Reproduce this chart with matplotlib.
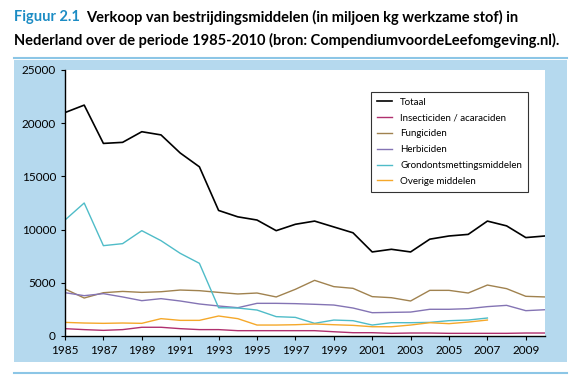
import matplotlib
matplotlib.use('Agg')
import matplotlib.pyplot as plt
from matplotlib.patches import Rectangle
from matplotlib.lines import Line2D

plt.rcParams['font.family'] = ['Lato', 'DejaVu Sans']

years = list(range(1985, 2011))
totaal = [21000, 21700, 18100, 18200, 19200, 18900, 17200, 15900, 11800, 11200, 10900, 9900, 10500,
          10800, 10250, 9700, 7900, 8150, 7900, 9100, 9400, 9550, 10800, 10350, 9250, 9400]
insecticiden = [690, 600, 530, 600, 820, 820, 690, 600, 600, 500, 500, 500, 500,
                500, 400, 310, 310, 250, 280, 280, 250, 250, 250, 250, 280, 280]
fungiciden = [4420, 3570, 4070, 4190, 4100, 4160, 4320, 4260, 4100, 3950, 4040, 3670, 4390,
              5230, 4640, 4480, 3700, 3600, 3290, 4290, 4290, 4040, 4790, 4450, 3730, 3670]
herbiciden = [4070, 3790, 3980, 3670, 3320, 3510, 3290, 3010, 2820, 2660, 3070, 3070, 3040,
              2980, 2910, 2630, 2190, 2220, 2250, 2510, 2510, 2570, 2760, 2880, 2380, 2470]
years_short = list(range(1985, 2008))
grondontsmetting = [10900, 12500, 8490, 8680, 9900, 8960, 7770, 6830, 2660, 2630, 2440, 1820,
                    1750, 1190, 1500, 1440, 1030, 1250, 1250, 1280, 1440, 1500, 1690]
overige = [1280, 1220, 1190, 1220, 1190, 1630, 1470, 1470, 1880, 1630, 1030, 1030,
           1060, 1130, 1060, 1000, 870, 870, 1030, 1250, 1160, 1310, 1500]

fig = plt.figure(figsize=(5.8, 3.84), dpi=100)
fig.patch.set_facecolor('white')

# light blue panel behind the chart
fig.patches.append(Rectangle((14 / 580, 1 - 362 / 384), 553 / 580, 302 / 384,
                             transform=fig.transFigure, facecolor='#b5d9ee', edgecolor='none', zorder=-1))
# rules above and below
fig.add_artist(Line2D([14 / 580, 567 / 580], [1 - 58 / 384] * 2, color='#8cc6e6', lw=1.5))
fig.add_artist(Line2D([14 / 580, 567 / 580], [1 - 373 / 384] * 2, color='#8cc6e6', lw=1.5))

fs = 10.5
t1 = fig.text(14 / 580, 1 - 17 / 384, 'Figuur 2.1', color='#1c8cc4', fontsize=fs, fontweight='bold', va='center')
r = fig.canvas.get_renderer()
x_end = t1.get_window_extent(r).x1
fig.text((x_end + 6) / 580, 1 - 17 / 384, 'Verkoop van bestrijdingsmiddelen (in miljoen kg werkzame stof) in',
         color='black', fontsize=fs, fontweight='bold', va='center')
fig.text(14 / 580, 1 - 40 / 384, 'Nederland over de periode 1985-2010 (bron: CompendiumvoordeLeefomgeving.nl).',
         color='black', fontsize=fs, fontweight='bold', va='center')

ax = fig.add_axes([65 / 580, 1 - 336 / 384, 480 / 580, 266 / 384])
ax.set_facecolor('white')
ax.plot(years, totaal, color='black', lw=1.2, label='Totaal')
ax.plot(years, insecticiden, color='#b0306e', lw=1, label='Insecticiden / acaraciden')
ax.plot(years, fungiciden, color='#a0824f', lw=1, label='Fungiciden')
ax.plot(years, herbiciden, color='#8474b4', lw=1, label='Herbiciden')
ax.plot(years_short, grondontsmetting, color='#4fbcc8', lw=1, label='Grondontsmettingsmiddelen')
ax.plot(years_short, overige, color='#f5a82a', lw=1, label='Overige middelen')

ax.set_xlim(1985, 2010)
ax.set_ylim(0, 25000)
ax.set_xticks(range(1985, 2010, 2))
ax.set_yticks(range(0, 25001, 5000))
ax.tick_params(labelsize=8.5, length=3, width=0.8)
for s in ['top', 'right']:
    ax.spines[s].set_visible(False)
ax.spines['left'].set_linewidth(1)
ax.spines['bottom'].set_linewidth(1)

leg = ax.legend(loc='upper left', bbox_to_anchor=(301 / 480, 1 - 17 / 266), fontsize=7,
                frameon=True, fancybox=False, edgecolor='black', handlelength=1.6,
                labelspacing=0.7, borderpad=0.6)
leg.get_frame().set_linewidth(0.8)

fig.savefig('out.png', dpi=100)
